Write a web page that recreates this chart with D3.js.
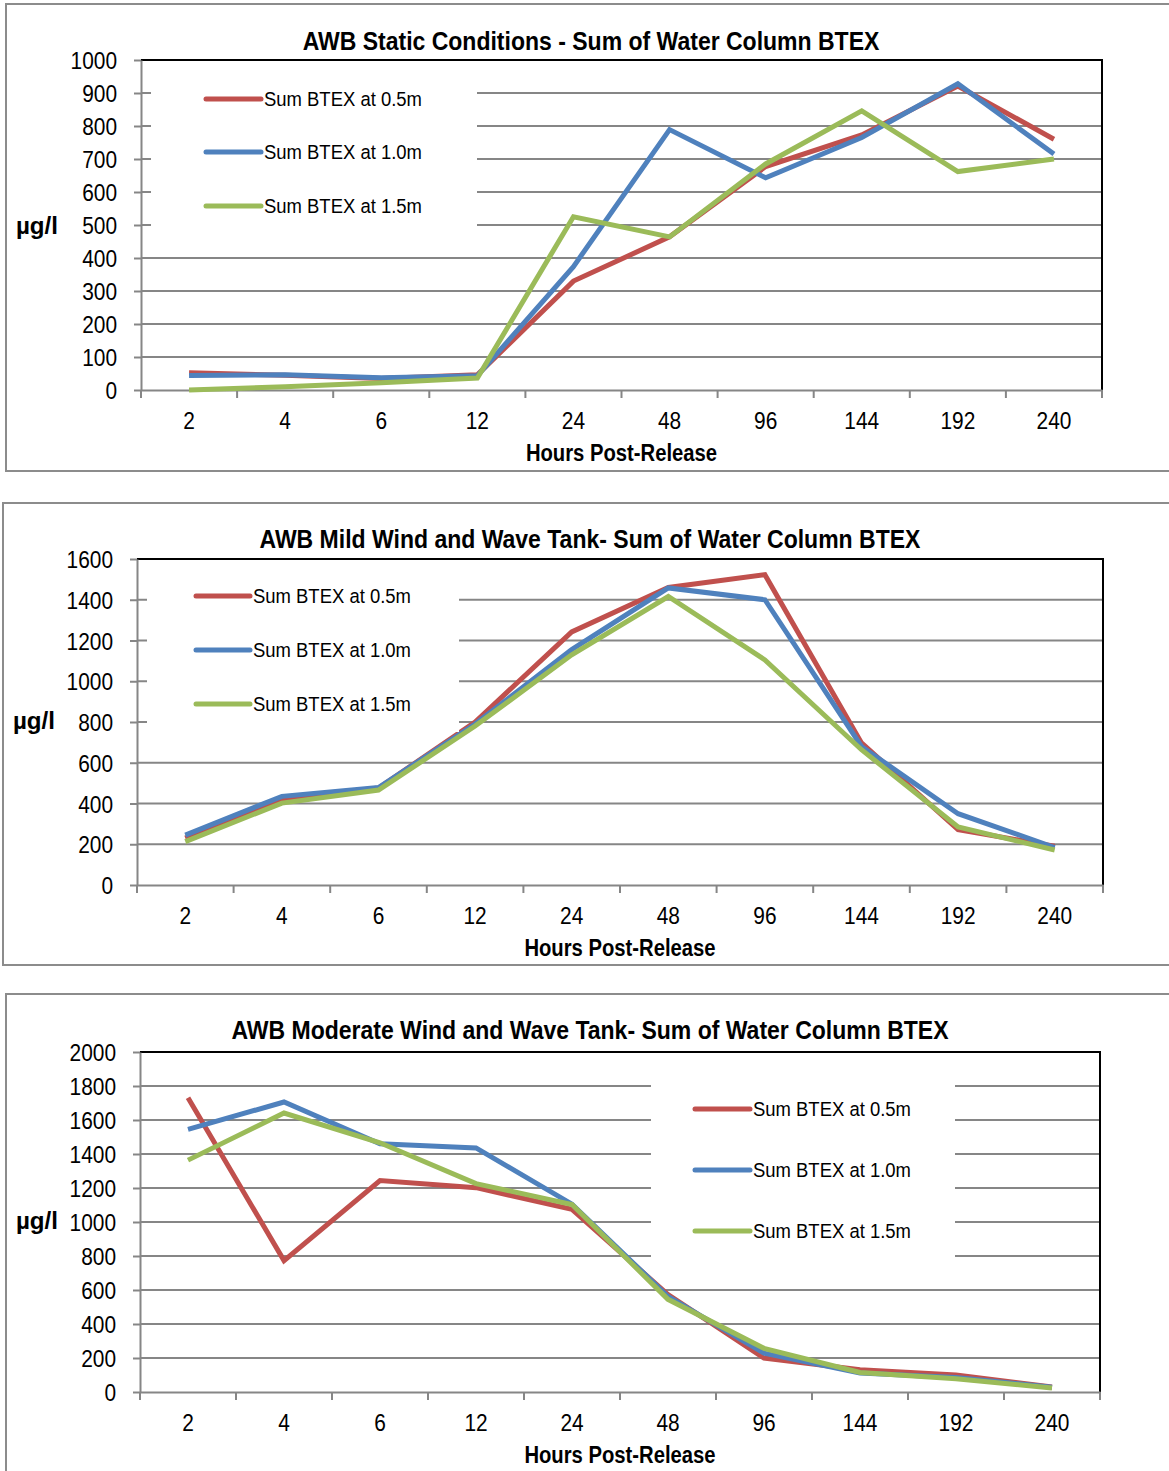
<!DOCTYPE html>
<html>
<head>
<meta charset="utf-8">
<script src="https://cdn.jsdelivr.net/npm/d3@7"></script>
<style>
  body { margin: 0; background: #fff; }
  svg text { font-family: "Liberation Sans", Arial, sans-serif; fill: #000; }
</style>
</head>
<body>
<div id="chart"></div>
<script>
// categories and series names
var hours = ['2', '4', '6', '12', '24', '48', '96', '144', '192', '240'];
var seriesNames = ['Sum BTEX at 0.5m', 'Sum BTEX at 1.0m', 'Sum BTEX at 1.5m'];
var seriesColors = ['#C0504D', '#4F81BD', '#9BBB59'];

// chart 1 - static conditions
var staticTicks = [0, 100, 200, 300, 400, 500, 600, 700, 800, 900, 1000];
var static05 = [52, 45, 35, 46, 330, 464, 677, 773, 921, 760];
var static10 = [44, 46, 37, 43, 374, 789, 643, 765, 928, 715];
var static15 = [0, 10, 22, 36, 525, 464, 685, 846, 662, 700];

// chart 2 - mild wind and wave
var mildTicks = [0, 200, 400, 600, 800, 1000, 1200, 1400, 1600];
var mild05 = [230, 422, 476, 800, 1242, 1460, 1523, 697, 272, 190];
var mild10 = [245, 435, 478, 790, 1155, 1458, 1400, 680, 350, 184];
var mild15 = [213, 402, 466, 780, 1130, 1416, 1105, 664, 285, 172];

// chart 3 - moderate wind and wave
var modTicks = [0, 200, 400, 600, 800, 1000, 1200, 1400, 1600, 1800, 2000];
var mod05 = [1731, 773, 1244, 1202, 1074, 573, 200, 131, 100, 29];
var mod10 = [1545, 1706, 1460, 1436, 1105, 562, 228, 112, 86, 28];
var mod15 = [1364, 1641, 1466, 1226, 1103, 545, 257, 115, 78, 24];

var charts = [
    {
        title: 'AWB Static Conditions - Sum of Water Column BTEX',
        ticks: staticTicks, series: [static05, static10, static15],
        frame: { x: 6, y: 4, w: 1180, h: 467 },
        plot: { left: 141, right: 1102, top: 60, bottom: 390 },
        titleX: 591, titleY: 50, unitX: 37, unitY: 227,
        legend: { x: 151, y: 72, w: 326, h: 162, lineX: 206, textX: 264, rows: [99, 152, 206] }
    },
    {
        title: 'AWB Mild Wind and Wave Tank- Sum of Water Column BTEX',
        ticks: mildTicks, series: [mild05, mild10, mild15],
        frame: { x: 3, y: 503, w: 1180, h: 462 },
        plot: { left: 137, right: 1103, top: 559, bottom: 885 },
        titleX: 590, titleY: 548, unitX: 34, unitY: 722,
        legend: { x: 147, y: 570, w: 312, h: 162, lineX: 196, textX: 253, rows: [596, 650, 704] }
    },
    {
        title: 'AWB Moderate Wind and Wave Tank- Sum of Water Column BTEX',
        ticks: modTicks, series: [mod05, mod10, mod15],
        frame: { x: 6, y: 994, w: 1180, h: 500 },
        plot: { left: 140, right: 1100, top: 1052, bottom: 1392 },
        titleX: 590, titleY: 1039, unitX: 37, unitY: 1222,
        legend: { x: 651, y: 1075, w: 304, h: 195, lineX: 695, textX: 753, rows: [1109, 1170, 1231] }
    }
];

var svg = d3.select('#chart').append('svg')
            .attr('width', 1169)
            .attr('height', 1471);

// squeeze text horizontally so it looks like the narrow font of the original
function narrow(sel, k) {
    sel.each(function () {
        var w = this.getComputedTextLength();
        d3.select(this).attr('textLength', w * k).attr('lengthAdjust', 'spacingAndGlyphs');
    });
}

function drawChart(cfg) {
    var g = svg.append('g'),
        p = cfg.plot,
        x = d3.scaleBand().domain(hours).range([p.left, p.right]),
        y = d3.scaleLinear().domain([0, d3.max(cfg.ticks)]).range([p.bottom, p.top]),
        line = d3.line()
                 .x(function (d, i) { return x(hours[i]) + x.bandwidth() / 2; })
                 .y(function (d) { return y(d); });

    // outer frame
    g.append('rect')
     .attr('x', cfg.frame.x).attr('y', cfg.frame.y)
     .attr('width', cfg.frame.w).attr('height', cfg.frame.h)
     .attr('fill', 'none').attr('stroke', '#8c8c8c').attr('stroke-width', 2);

    // gridlines
    g.append('g').selectAll('line')
     .data(cfg.ticks.filter(function (t) { return t > 0 && t < d3.max(cfg.ticks); }))
     .enter().append('line')
     .attr('x1', p.left).attr('x2', p.right)
     .attr('y1', function (d) { return y(d); })
     .attr('y2', function (d) { return y(d); })
     .attr('stroke', '#868686').attr('stroke-width', 2);

    // top and right plot border
    g.append('path')
     .attr('d', 'M' + p.left + ',' + p.top + 'H' + p.right + 'V' + p.bottom)
     .attr('fill', 'none').attr('stroke', '#000').attr('stroke-width', 2);

    // y axis
    var yAxis = g.append('g')
                 .attr('transform', 'translate(' + p.left + ',0)')
                 .call(d3.axisLeft(y).tickValues(cfg.ticks).tickFormat(d3.format('d'))
                         .tickSize(7).tickPadding(17).tickSizeOuter(0));
    yAxis.selectAll('line').attr('stroke', '#868686').attr('stroke-width', 2);
    yAxis.select('.domain').attr('stroke', '#868686').attr('stroke-width', 2);
    yAxis.selectAll('text').attr('font-size', 24).attr('font-family', null).attr('dy', '0.36em')
         .call(narrow, 0.87);

    // x axis labels
    var xAxis = g.append('g')
                 .attr('transform', 'translate(0,' + p.bottom + ')')
                 .call(d3.axisBottom(x).tickSize(0).tickPadding(22));
    xAxis.select('.domain').attr('stroke', '#868686').attr('stroke-width', 2);
    xAxis.selectAll('text').attr('font-size', 24).attr('font-family', null)
         .call(narrow, 0.87);

    // x tick marks on category boundaries
    g.append('g').selectAll('line')
     .data(d3.range(hours.length + 1))
     .enter().append('line')
     .attr('x1', function (i) { return p.left + i * x.step(); })
     .attr('x2', function (i) { return p.left + i * x.step(); })
     .attr('y1', p.bottom).attr('y2', p.bottom + 8)
     .attr('stroke', '#868686').attr('stroke-width', 2);

    // series lines
    g.append('g').selectAll('path')
     .data(cfg.series)
     .enter().append('path')
     .attr('d', line)
     .attr('fill', 'none')
     .attr('stroke', function (d, i) { return seriesColors[i]; })
     .attr('stroke-width', 5)
     .attr('stroke-linejoin', 'miter');

    // legend
    var lg = g.append('g');
    lg.append('rect')
      .attr('x', cfg.legend.x).attr('y', cfg.legend.y)
      .attr('width', cfg.legend.w).attr('height', cfg.legend.h)
      .attr('fill', '#fff');
    seriesNames.forEach(function (name, i) {
        var ry = cfg.legend.rows[i];
        lg.append('line')
          .attr('x1', cfg.legend.lineX).attr('x2', cfg.legend.textX - 3)
          .attr('y1', ry).attr('y2', ry)
          .attr('stroke', seriesColors[i]).attr('stroke-width', 5)
          .attr('stroke-linecap', 'round');
        lg.append('text')
          .attr('x', cfg.legend.textX).attr('y', ry + 7)
          .attr('font-size', 20.5)
          .text(name)
          .call(narrow, 0.9);
    });

    // titles
    g.append('text')
     .attr('x', cfg.titleX).attr('y', cfg.titleY)
     .attr('text-anchor', 'middle')
     .attr('font-size', 25).attr('font-weight', 'bold')
     .text(cfg.title)
     .call(narrow, 0.92);

    g.append('text')
     .attr('x', (p.left + p.right) / 2).attr('y', p.bottom + 71)
     .attr('text-anchor', 'middle')
     .attr('font-size', 23).attr('font-weight', 'bold')
     .text('Hours Post-Release')
     .call(narrow, 0.88);

    g.append('text')
     .attr('x', cfg.unitX).attr('y', cfg.unitY + 7)
     .attr('text-anchor', 'middle')
     .attr('font-size', 23).attr('font-weight', 'bold')
     .text('µg/l')
     .call(narrow, 1.05);
}

charts.forEach(drawChart);
</script>
</body>
</html>
